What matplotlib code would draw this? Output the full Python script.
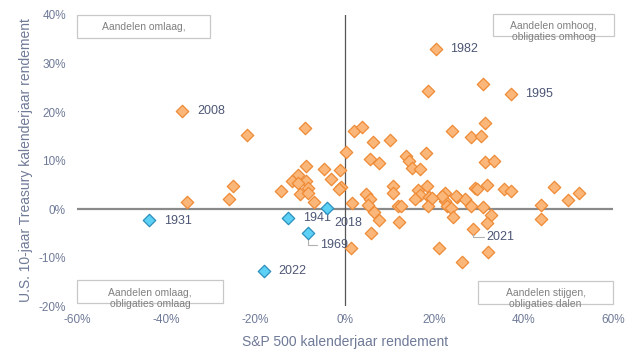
import matplotlib
matplotlib.use("Agg")
import matplotlib.pyplot as plt
from matplotlib.patches import Rectangle

plt.rcParams["font.family"] = ["Liberation Sans", "DejaVu Sans"]

# S&P 500 return (%) vs. 10y Treasury return (%), one point per year
sp_orange = [-36.4, -8.9, -21.9, 0.2, -8.7, -4.7, -1.1, -10.5, -3.1, -11.8, -8.7, -10.5,
             -25.0, -8.3, -0.9, -1.3, -14.3, -10.0, -8.3, -25.9, -35.3, -6.9,
             2.0, 3.8, 6.3, 10.0, 23.9, 28.3, 30.4, 31.3,
             5.6, 7.6, 13.6, 14.3, 14.9, 16.7, 18.1, 31.3, 33.3,
             10.7, 10.7, 16.3, 18.3, 16.7, 18.8, 15.6, 22.3, 25.0, 26.8, 29.2, 31.9,
             1.6, 4.7, 5.6, 5.1, 11.8, 12.5, 18.5, 22.3, 22.8, 28.3, 31.0, 6.5,
             35.7, 37.1, 46.9, 50.0, 52.5, 43.8, 43.8, 32.6,
             1.3, 7.6, 5.8, 12.1, 23.7, 24.1, 31.7, 21.0, 26.1, 32.1,
             20.3, 37.1, 18.5, 31.0, 21.7, 24.8, 29.5, 19.4, 28.6]
tsy_orange = [20.2, 16.7, 15.3, 11.7, 8.9, 8.2, 8.0, 7.0, 6.2, 5.8, 5.8, 5.4,
              4.7, 4.3, 4.5, 4.1, 3.7, 3.1, 3.3, 2.1, 1.4, 1.4,
              16.1, 16.9, 13.8, 14.2, 16.1, 14.8, 15.1, 17.7,
              10.3, 9.5, 10.9, 9.9, 8.5, 8.2, 11.5, 9.7, 9.9,
              4.7, 3.3, 3.9, 4.7, 2.9, 2.5, 2.1, 3.3, 2.5, 2.1, 4.3, 4.9,
              1.2, 3.1, 2.1, 0.8, 0.6, 0.6, 0.6, 1.6, 0.6, 0.6, 0.4, -0.6,
              4.1, 3.7, 4.5, 1.9, 3.3, 0.8, -2.0, -1.2,
              -8.0, -2.3, -4.9, -2.6, 0.2, -1.6, -2.9, -8.0, -10.9, -8.9,
              33.0, 23.7, 24.3, 25.8, 2.7, 2.7, 4.1, 2.3, -4.1]

# years where both stocks and bonds fell
years_blue = ["1931", "1941", "2018", "1969", "2022"]
sp_blue = [-43.8, -12.7, -4.0, -8.3, -18.1]
tsy_blue = [-2.3, -1.9, 0.2, -4.9, -12.8]

labeled_orange = {"2008": (-36.4, 20.2), "1982": (20.3, 33.0), "1995": (37.1, 23.7)}

x_ticks = [-60, -40, -20, 0, 20, 40, 60]
y_ticks = [-20, -10, 0, 10, 20, 30, 40]

quadrant_texts = ["Aandelen omlaag,", "Aandelen omhoog,\nobligaties omhoog",
                  "Aandelen omlaag,\nobligaties omlaag", "Aandelen stijgen,\nobligaties dalen"]

tick_color = "#6f7a98"
label_color = "#4d5775"

W, H = 640, 364
fig = plt.figure(figsize=(6.4, 3.64), dpi=100)
ax = fig.add_axes([0.1203, 0.1593, 0.8375, 0.7995])

ax.axhline(0, color="#8a8a8a", lw=1.6, zorder=1)
ax.axvline(0, color="#555555", lw=0.9, zorder=1)

ax.scatter(sp_orange, tsy_orange, marker="D", s=40, facecolor="#fbb679",
           edgecolor="#ee8a35", linewidth=0.9, zorder=3)
ax.scatter(sp_blue, tsy_blue, marker="D", s=40, facecolor="#5dd0f5",
           edgecolor="#2b8fbd", linewidth=0.9, zorder=4)

for yr, (x, y) in labeled_orange.items():
    ax.annotate(yr, (x, y), xytext=(10.5, 0), textcoords="offset points",
                va="center", ha="left", fontsize=9, color=label_color)

offsets = {"1931": (10.5, -0.5), "1941": (11, 0), "2018": (5, -10.5),
           "2022": (10, 0)}
for yr, x, y in zip(years_blue, sp_blue, tsy_blue):
    if yr in offsets:
        ax.annotate(yr, (x, y), xytext=offsets[yr], textcoords="offset points",
                    va="center", ha="left", fontsize=9, color=label_color)

ax.annotate("1969", (-8.3, -4.9), xytext=(8.5, -8.5), textcoords="offset points",
            va="center", ha="left", fontsize=9, color=label_color,
            arrowprops=dict(arrowstyle="-", color="#b0b0b0", lw=0.8,
                            shrinkA=0, shrinkB=4,
                            connectionstyle="angle,angleA=0,angleB=90,rad=0"))
ax.annotate("2021", (28.6, -4.1), xytext=(10, -5.5), textcoords="offset points",
            va="center", ha="left", fontsize=9, color=label_color,
            arrowprops=dict(arrowstyle="-", color="#b0b0b0", lw=0.8,
                            shrinkA=0, shrinkB=4,
                            connectionstyle="angle,angleA=0,angleB=90,rad=0"))

# quadrant boxes, fixed size in pixels (text is allowed to spill out)
boxes_px = [(77, 15, 210, 38), (493, 14, 614, 36), (77, 280, 223, 303), (478, 281, 613, 304)]
text_y_px = [27, 31.5, 298.5, 298.5]
for (x0, y0, x1, y1), ty, txt in zip(boxes_px, text_y_px, quadrant_texts):
    fig.add_artist(Rectangle((x0 / W, 1 - y1 / H), (x1 - x0) / W, (y1 - y0) / H,
                             transform=fig.transFigure, facecolor="white",
                             edgecolor="#c8c8c8", lw=0.9, zorder=5))
    fig.text((x0 + x1) / 2 / W, 1 - ty / H, txt, ha="center", va="center",
             fontsize=7.5, color="#808080", linespacing=1.05, zorder=6)

ax.set_xlim(-60, 60)
ax.set_ylim(-20, 40)
ax.set_xticks(x_ticks, labels=[f"{t}%" for t in x_ticks])
ax.set_yticks(y_ticks, labels=[f"{t}%" for t in y_ticks])
ax.tick_params(length=0, labelsize=8.5, labelcolor=tick_color)
ax.tick_params(axis="x", pad=6)
ax.tick_params(axis="y", pad=8)
for s in ax.spines.values():
    s.set_visible(False)

ax.set_xlabel("S&P 500 kalenderjaar rendement", fontsize=10, color=tick_color, labelpad=6)
ax.set_ylabel("U.S. 10-jaar Treasury kalenderjaar rendement", fontsize=10,
              color=tick_color, labelpad=4)

fig.savefig("out.png", dpi=100)
